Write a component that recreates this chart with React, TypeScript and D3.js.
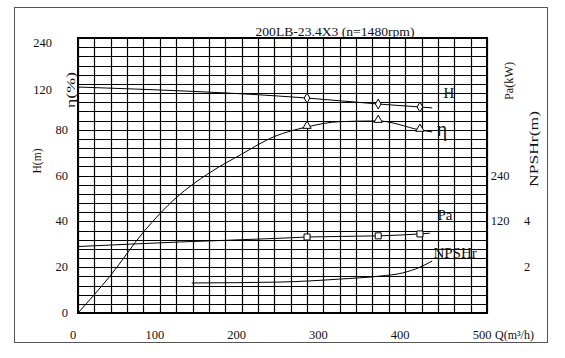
import { useEffect, useRef } from "react";
import * as d3 from "d3";

// flow Q (m3/h) and the four curves
const qHead = [0, 280, 367, 418, 433];
const head = [98.6, 93.8, 91.2, 89.9, 89.5];

const qEff = [0, 40, 80, 120, 160, 200, 240, 280, 320, 367, 418, 433];
const eff = [0, 16.5, 35.3, 50.3, 61, 69.3, 77, 81.2, 83.5, 83.8, 79.9, 79];

const qPower = [0, 125, 250, 280, 367, 418, 430];
const power = [54, 66, 76, 79, 82, 87, 89];

const qNpsh = [139, 247, 320, 369, 397, 418, 433];
const npsh = [1.31, 1.35, 1.48, 1.61, 1.75, 2.0, 2.27];

const markQ = [280, 367, 418];

const qTicks = [0, 100, 200, 300, 400, 500];
const hTicks = [0, 20, 40, 60, 80];
const etaTickLabels = ["120", "240"];
const etaTickAt = [97.5, 118];
const paTicks = [120, 240];
const npshTicks = [2, 4];

const title = "200LB-23.4X3 (n=1480rpm)";
const FONT = "'Liberation Serif', 'DejaVu Serif', serif";

const App = () => {
  const ref = useRef<SVGSVGElement>(null);
  const W = 565;
  const Hh = 358;

  const runChart = () => {
    const svg = d3.select(ref.current);
    svg.selectAll("*").remove();

    const x = d3.scaleLinear().domain([0, 500]).range([78, 487]);
    const y = d3.scaleLinear().domain([0, 120]).range([313, 38]);
    // Pa(kW): 120 sits on H=40, 240 on H=60
    const yPa = d3.scaleLinear().domain([0, 240]).range([y(20), y(60)]);
    const yNpsh = d3.scaleLinear().domain([0, 12]).range([313, 38]);

    svg
      .append("rect")
      .attr("width", W)
      .attr("height", Hh)
      .attr("fill", "#fff");

    // outer frame
    svg
      .append("rect")
      .attr("x", 14.5)
      .attr("y", 7.5)
      .attr("width", 533)
      .attr("height", 335)
      .attr("fill", "none")
      .attr("stroke", "#555")
      .attr("stroke-width", 1);

    // grid
    const grid = svg.append("g").attr("stroke", "#000").attr("stroke-width", 1.2);
    grid
      .selectAll("line.v")
      .data(d3.range(0, 501, 20))
      .join("line")
      .attr("x1", (d) => Math.round(x(d)) + 0.5)
      .attr("x2", (d) => Math.round(x(d)) + 0.5)
      .attr("y1", y(0))
      .attr("y2", y(120));
    grid
      .selectAll("line.h")
      .data(d3.range(0, 121, 4))
      .join("line")
      .attr("y1", (d) => Math.round(y(d)) + 0.5)
      .attr("y2", (d) => Math.round(y(d)) + 0.5)
      .attr("x1", x(0))
      .attr("x2", x(500));

    svg
      .append("rect")
      .attr("x", x(0))
      .attr("y", y(120))
      .attr("width", x(500) - x(0))
      .attr("height", y(0) - y(120))
      .attr("fill", "none")
      .attr("stroke", "#000")
      .attr("stroke-width", 2);

    // curves
    const drawCurve = (qs: number[], vs: number[], ys: any) => {
      const pts = qs.map((q, i) => [q, vs[i]]);
      const line = d3
        .line()
        .x((d: any) => x(d[0]))
        .y((d: any) => ys(d[1]))
        .curve(d3.curveMonotoneX);
      svg
        .append("path")
        .attr("d", line(pts as any))
        .attr("fill", "none")
        .attr("stroke", "#000")
        .attr("stroke-width", 1);
    };
    drawCurve(qHead, head, y);
    drawCurve(qEff, eff, y);
    drawCurve(qPower, power, yPa);
    drawCurve(qNpsh, npsh, yNpsh);

    const interp = (qs: number[], vs: number[], q: number) => {
      const i = qs.findIndex((v) => v >= q);
      if (qs[i] === q) return vs[i];
      const t = (q - qs[i - 1]) / (qs[i] - qs[i - 1]);
      return vs[i - 1] + t * (vs[i] - vs[i - 1]);
    };

    const marks = svg
      .append("g")
      .attr("fill", "#fff")
      .attr("stroke", "#000")
      .attr("stroke-width", 1);
    markQ.forEach((q) => {
      marks
        .append("path")
        .attr("d", d3.symbol(d3.symbolDiamond, 28)())
        .attr("transform", `translate(${x(q)},${y(interp(qHead, head, q))})`);
      marks
        .append("path")
        .attr("d", d3.symbol(d3.symbolTriangle, 30)())
        .attr("transform", `translate(${x(q)},${y(interp(qEff, eff, q)) - 1})`);
      marks
        .append("path")
        .attr("d", d3.symbol(d3.symbolSquare, 36)())
        .attr("transform", `translate(${x(q)},${yPa(interp(qPower, power, q))})`);
    });

    const txt = svg
      .append("g")
      .attr("font-family", FONT)
      .attr("fill", "#111");

    // title
    txt
      .append("text")
      .attr("x", 335)
      .attr("y", 31)
      .attr("text-anchor", "middle")
      .attr("dominant-baseline", "central")
      .attr("font-size", 13)
      .attr("textLength", 159)
      .attr("lengthAdjust", "spacingAndGlyphs")
      .text(title);

    // x ticks
    txt
      .selectAll("text.qt")
      .data(qTicks)
      .join("text")
      .attr("x", (d) => x(d) - 5)
      .attr("y", 335)
      .attr("text-anchor", "middle")
      .attr("dominant-baseline", "central")
      .attr("font-size", 12.5)
      .text((d) => d);
    txt
      .append("text")
      .attr("x", 495)
      .attr("y", 335)
      .attr("dominant-baseline", "central")
      .attr("font-size", 12)
      .text("Q(m³/h)");

    // left ticks
    txt
      .selectAll("text.ht")
      .data(hTicks)
      .join("text")
      .attr("x", 68)
      .attr("y", (d) => y(d))
      .attr("text-anchor", "end")
      .attr("dominant-baseline", "central")
      .attr("font-size", 12.5)
      .text((d) => d);
    txt
      .selectAll("text.et")
      .data(etaTickLabels)
      .join("text")
      .attr("x", 52)
      .attr("y", (_, i) => y(etaTickAt[i]))
      .attr("text-anchor", "end")
      .attr("dominant-baseline", "central")
      .attr("font-size", 12.5)
      .text((d) => d);

    // right ticks
    txt
      .selectAll("text.pt")
      .data(paTicks)
      .join("text")
      .attr("x", 500)
      .attr("y", (d) => yPa(d))
      .attr("text-anchor", "middle")
      .attr("dominant-baseline", "central")
      .attr("font-size", 12.5)
      .text((d) => d);
    txt
      .selectAll("text.nt")
      .data(npshTicks)
      .join("text")
      .attr("x", 527)
      .attr("y", (d) => yNpsh(d))
      .attr("text-anchor", "middle")
      .attr("dominant-baseline", "central")
      .attr("font-size", 12.5)
      .text((d) => d);

    // rotated axis titles
    const rot = (label: string, cx: number, cy: number, size: number, len?: number) => {
      const t = txt
        .append("text")
        .attr("transform", `translate(${cx},${cy}) rotate(-90)`)
        .attr("text-anchor", "middle")
        .attr("dominant-baseline", "central")
        .attr("font-size", size)
        .text(label);
      if (len) t.attr("textLength", len).attr("lengthAdjust", "spacingAndGlyphs");
    };
    rot("H(m)", 37, 161, 12, 25);
    rot("η(%)", 70, 90, 13, 36);
    rot("Pa(kW)", 508, 81, 13, 38);
    rot("NPSHr(m)", 533, 149, 13, 76);

    // curve labels
    const lab = (label: string, q: number, v: number, size: number) =>
      txt
        .append("text")
        .attr("x", x(q))
        .attr("y", y(v))
        .attr("text-anchor", "middle")
        .attr("dominant-baseline", "central")
        .attr("font-size", size)
        .text(label);
    lab("H", 453.5, 96, 15);
    lab("η", 445, 80.3, 20);
    lab("Pa", 448.6, 42.8, 15);
    lab("NPSHr", 461, 26.2, 15);
  };

  useEffect(() => {
    runChart();
  }, []);

  return (
    <svg
      ref={ref}
      width={W}
      height={Hh}
      style={{ position: "absolute", left: 0, top: 0 }}
    />
  );
};

export default App;
